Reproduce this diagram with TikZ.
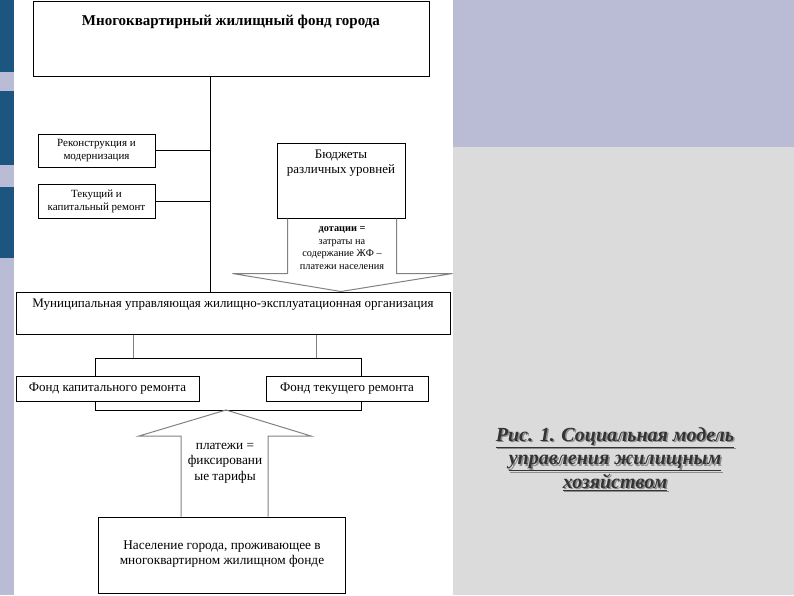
\documentclass[tikz,border=0pt]{standalone}
\usepackage{fontspec}
\setmainfont{Liberation Serif}
\usetikzlibrary{calc}
\definecolor{blueblk}{RGB}{28,86,128}
\definecolor{lav}{RGB}{186,188,214}
\definecolor{graybg}{RGB}{219,219,219}
\definecolor{arrgray}{RGB}{130,130,130}
\tikzset{
  box/.style={draw=black, line width=1pt, fill=white, rectangle, inner sep=0pt},
  txt/.style={inner sep=0pt, align=center, text=black},
  conn/.style={draw=black, line width=1pt},
  gconn/.style={draw=arrgray, line width=1pt},
  bigarrow/.style={draw=arrgray, line width=1pt, line join=miter},
}
\begin{document}
\begin{tikzpicture}[x=1pt,y=-1pt]
\useasboundingbox (0,0) rectangle (794,595);
% backgrounds
\fill[lav] (0,0) rectangle (14,595);
\fill[blueblk] (0,0) rectangle (14,72);
\fill[blueblk] (0,91) rectangle (14,165);
\fill[blueblk] (0,187) rectangle (14,258);
\fill[white] (14,0) rectangle (453,595);
\fill[lav] (453,0) rectangle (794,147);
\fill[graybg] (453,147) rectangle (794,595);

% boxes
\node[box, minimum width=396pt, minimum height=75pt] (top) at (231,38.5) {};
\node[txt, font=\fontsize{15}{17}\selectfont\bfseries] (toptxt) at (231,22) {Многоквартирный жилищный фонд города};

\node[box, minimum width=117pt, minimum height=33pt] (rek) at (96.5,150.5) {};
\node[txt, font=\fontsize{11}{13}\selectfont] (rektxt) at (96.5,150.5) {Реконструкция и\\модернизация};

\node[box, minimum width=117pt, minimum height=34pt] (tek) at (96.5,201) {};
\node[txt, font=\fontsize{11}{13}\selectfont] (tektxt) at (96.5,201) {Текущий и\\капитальный ремонт};

\node[box, minimum width=128pt, minimum height=75pt] (bud) at (341,180.5) {};
\node[txt, font=\fontsize{13}{14.5}\selectfont] (budtxt) at (341,163) {Бюджеты\\различных уровней};

\node[box, minimum width=434pt, minimum height=42pt] (mun) at (233,313) {};
\node[txt, font=\fontsize{13}{15}\selectfont] (muntxt) at (233,305) {Муниципальная управляющая жилищно-эксплуатационная организация};

\node[box, minimum width=183pt, minimum height=25pt] (fk) at (107.5,388.5) {};
\node[txt, font=\fontsize{13}{15}\selectfont] (fktxt) at (107.5,388.5) {Фонд капитального ремонта};

\node[box, minimum width=162pt, minimum height=25pt] (ft) at (347,388.5) {};
\node[txt, font=\fontsize{13}{15}\selectfont] (fttxt) at (347,388.5) {Фонд текущего ремонта};

\node[box, minimum width=247pt, minimum height=76pt] (pop) at (221.5,555) {};
\node[txt, font=\fontsize{13.3}{15.5}\selectfont] (poptxt) at (222,554) {Население города, проживающее в\\многоквартирном жилищном фонде};

% trunk
\coordinate (t) at (210,0);
\draw[conn] (t |- top.south) -- (t |- mun.north);
\draw[conn] (rek.east) -- (rek.east -| t);
\draw[conn] (tek.east) -- (tek.east -| t);

% down arrow from budgets to municipal org
\coordinate (dtip) at (bud.south |- mun.north);
\draw[bigarrow] ($(bud.south west)+(11,0)$) -- ++(0,55) -- ++(-55,0) -- (dtip)
  -- ($(bud.south east)+(47,55)$) -- ($(bud.south east)+(-9,55)$) -- ($(bud.south east)+(-9,0)$);
\node[txt, font=\fontsize{10.3}{12.7}\selectfont] (dtxt) at (342,248) {\textbf{дотации =}\\затраты на\\содержание ЖФ –\\платежи населения};

% municipal to funds
\coordinate (bl) at (133,358);
\coordinate (br) at (316,358);
\draw[gconn] (bl |- mun.south) -- (bl);
\draw[gconn] (br |- mun.south) -- (br);
\coordinate (fl) at (95,358);
\coordinate (fr) at (361,358);
\draw[conn] (fl |- fk.north) -- (fl) -- (fr) -- (fr |- ft.north);

% funds bottom bracket
\coordinate (gl) at (95,410);
\coordinate (gr) at (361,410);
\draw[conn] (gl |- fk.south) -- (gl) -- (gr) -- (gr |- ft.south);

% up arrow from population
\coordinate (utip) at (226,410);
\draw[bigarrow] (181,0 |- pop.north) -- (181,436) -- (139,436) -- (utip)
  -- (311,436) -- (268,436) -- (268,0 |- pop.north);
\node[txt, font=\fontsize{13.3}{15.5}\selectfont] (utxt) at (225,463) {платежи =\\фиксировани\\ые тарифы};

% caption with shadow
\node[txt, font=\fontsize{20}{23.5}\selectfont\bfseries\itshape, text=black!45] (capsh) at (616.5,460.5)
  {\underline{Рис. 1. Социальная модель}\\\underline{управления жилищным}\\\underline{хозяйством}};
\node[txt, font=\fontsize{20}{23.5}\selectfont\bfseries\itshape, text=black!80] (cap) at (615,459)
  {\underline{Рис. 1. Социальная модель}\\\underline{управления жилищным}\\\underline{хозяйством}};
\end{tikzpicture}
\end{document}
